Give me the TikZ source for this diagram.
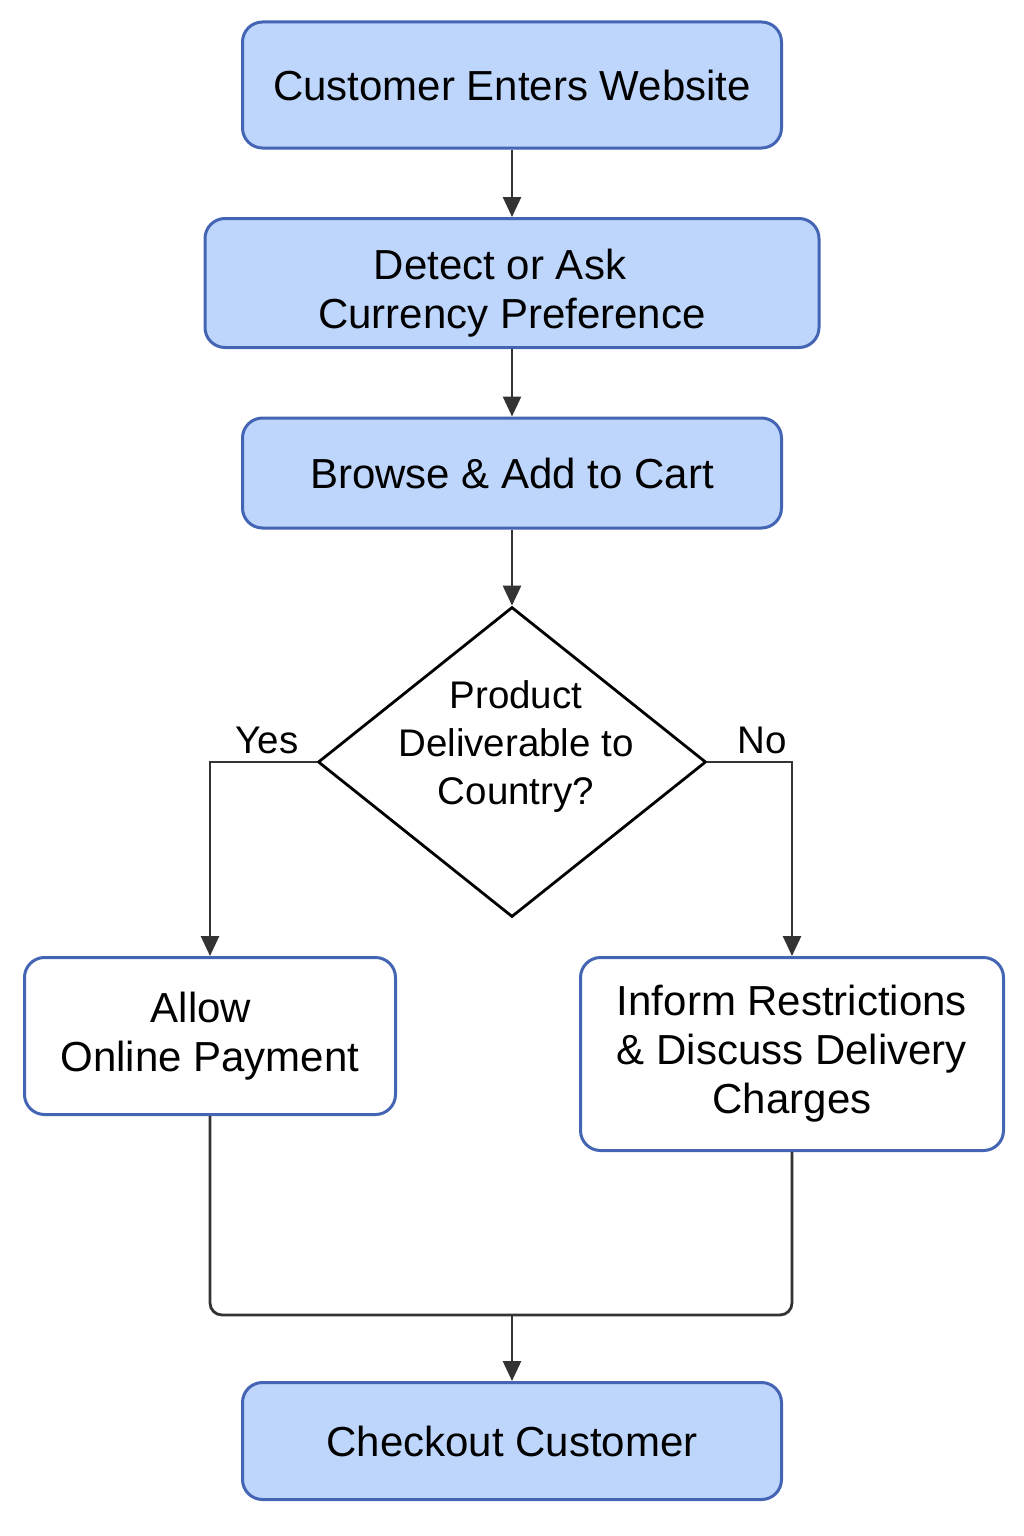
\documentclass[tikz,border=0pt]{standalone}
\usepackage{fontspec}
\setmainfont{Liberation Sans}
\usetikzlibrary{shapes.geometric, arrows.meta}
\definecolor{boxfill}{RGB}{190,214,252}
\definecolor{boxline}{RGB}{68,100,180}
\definecolor{arrowgray}{RGB}{51,51,51}
\tikzset{>={Triangle[length=20pt,width=18pt]}}
\tikzset{
	stepbox/.style = {draw = boxline, line width = 3pt, rounded corners = 20pt, align = center, inner sep = 0pt, font = \fontsize{42}{49}\selectfont},
	bluebox/.style = {stepbox, fill = boxfill},
	whitebox/.style = {stepbox, fill = white},
	decision/.style = {draw = black, line width = 2.8pt, diamond, aspect = 1.25, minimum width = 388pt, minimum height = 310pt, inner sep = 0pt},
	flow/.style = {draw = arrowgray, line width = 2.8pt},
	smalltext/.style = {align = center, font = \fontsize{38.5}{48}\selectfont}
}

\begin{document}
\begin{tikzpicture}[x = 1pt, y = -1pt]
	\useasboundingbox (0,0) rectangle (1024,1536);
	% main column
	\node[bluebox, minimum width = 539pt, minimum height = 126pt] (enter) at (512,85) {Customer Enters Website};
	\node[bluebox, minimum width = 614pt, minimum height = 129pt] (currency) at (512,283) {\rule{0pt}{50pt}\hspace*{-24pt}Detect or Ask\\Currency Preference};
	\node[bluebox, minimum width = 539pt, minimum height = 110pt] (cart) at (512,473) {Browse \& Add to Cart};
	\node[decision] (deliver) at (512,762) {};
	\node[smalltext] (delivertext) at (516,747) {Product\\Deliverable to\\Country?};
	% branches
	\node[whitebox, minimum width = 371pt, minimum height = 157pt] (online) at (210,1036) {\hspace*{-18pt}Allow\\Online Payment};
	\node[whitebox, minimum width = 423pt, minimum height = 193pt] (inform) at (792,1054) {Inform Restrictions\\\& Discuss Delivery\\Charges};
	\node[bluebox, minimum width = 539pt, minimum height = 117pt] (checkout) at (512,1441) {Checkout Customer};
	\coordinate (merge) at (512,1315);
	% connectors
	\draw[flow, ->] (enter) -- (currency);
	\draw[flow, ->] (currency) -- (cart);
	\draw[flow, ->] (cart) -- (deliver.north);
	\draw[flow, ->] (deliver.west) -| (online.north);
	\draw[flow, ->] (deliver.east) -| (inform.north);
	\node[smalltext] (yes) at (267,740) {Yes};
	\node[smalltext] (no) at (762,740) {No};
	\draw[flow, rounded corners = 12pt] (online.south) -- (online.south |- merge) -- (inform.south |- merge) -- (inform.south);
	\draw[flow, ->] (merge) -- (checkout);
\end{tikzpicture}
\end{document}
